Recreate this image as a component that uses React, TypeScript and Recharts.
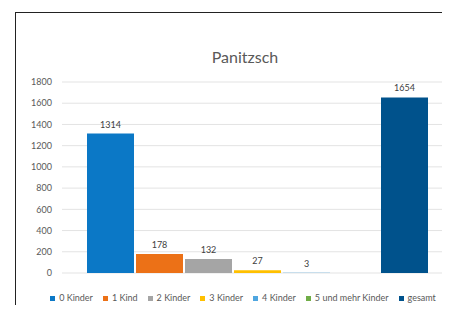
import React from 'react';
import { BarChart, Bar, XAxis, YAxis, CartesianGrid, Legend, LabelList } from 'recharts';

const seriesNames = ['0 Kinder', '1 Kind', '2 Kinder', '3 Kinder', '4 Kinder', '5 und mehr Kinder', 'gesamt'];
const seriesValues = [1314, 178, 132, 27, 3, 0, 1654];
const seriesColors = ['#0b78c6', '#ec7117', '#a5a5a5', '#ffc000', '#4fa6e0', '#70ad47', '#00528c'];
const showLabel = [true, true, true, true, true, false, true];
const yTicks = [0, 200, 400, 600, 800, 1000, 1200, 1400, 1600, 1800];

const keys = seriesNames.map((_, i) => `s${i}`);
const row: Record<string, number | string> = { name: 'Panitzsch' };
keys.forEach((k, i) => {
  row[k] = seriesValues[i];
});
const data = [row];

const font = 'Lato, "Open Sans", sans-serif';

const App: React.FC = () => {
  return (
    <div style={{ position: 'relative', width: 450, height: 313, margin: -8, overflow: 'hidden', background: '#fff', fontFamily: font }}>
      <div style={{ position: 'absolute', left: 15, top: 12, width: 429, height: 320, border: '1.5px solid #222' }} />
      <div style={{ position: 'absolute', left: 0, width: 490, top: 47, textAlign: 'center', fontSize: 16, color: '#595959' }}>
        Panitzsch
      </div>
      <BarChart
        width={450}
        height={313}
        data={data}
        margin={{ top: 82, right: 5, left: 0, bottom: 29 }}
        barCategoryGap={17}
        barGap={2}
        style={{ position: 'absolute', left: 0, top: 0 }}
      >
        <CartesianGrid vertical={false} stroke="#e3e3e3" />
        <XAxis dataKey="name" hide padding={{ left: 8, right: 0 }} />
        <YAxis
          width={62}
          domain={[0, 1800]}
          ticks={yTicks}
          interval={0}
          tickLine={false}
          axisLine={false}
          tickSize={6}
          tickMargin={4}
          tick={{ fontSize: 9, fill: '#595959', fontFamily: font }}
        />
        <Legend
          verticalAlign="bottom"
          iconType="square"
          iconSize={5}
          wrapperStyle={{ left: 48, width: 400, bottom: 10, fontSize: 9, fontFamily: font, color: '#595959' }}
          formatter={(value: string) => <span style={{ color: '#595959' }}>{value}</span>}
        />
        {keys.map((k, i) => (
          <Bar key={k} dataKey={k} name={seriesNames[i]} fill={seriesColors[i]} isAnimationActive={false}>
            {showLabel[i] && (
              <LabelList dataKey={k} position="top" offset={6} style={{ fontSize: 9, fill: '#404040', fontFamily: font }} />
            )}
          </Bar>
        ))}
      </BarChart>
    </div>
  );
};

export default App;
